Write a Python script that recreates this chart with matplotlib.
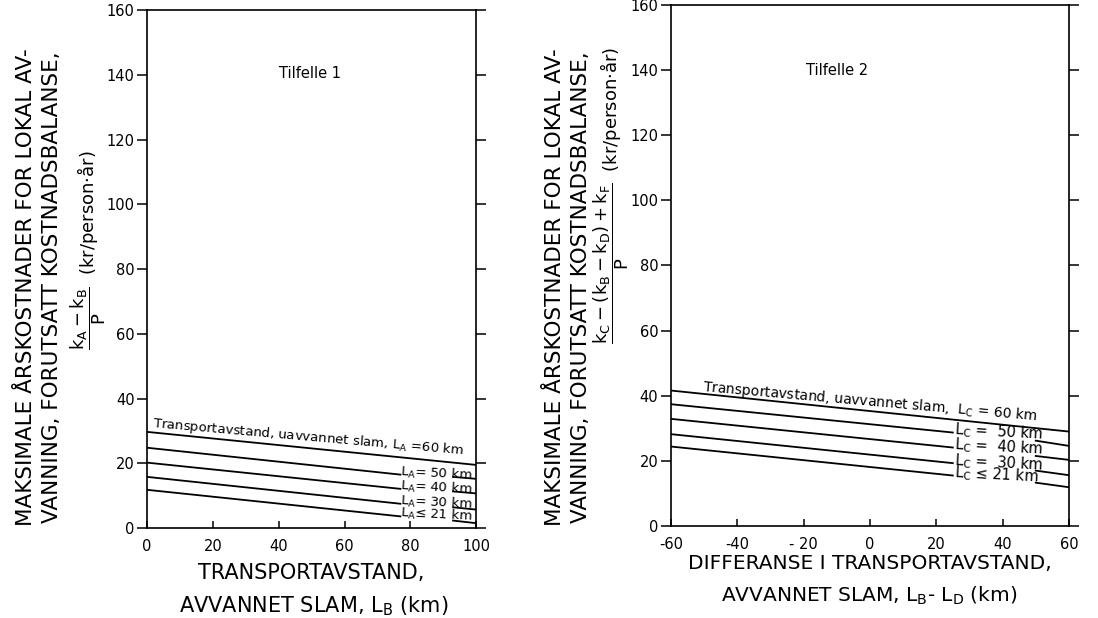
import matplotlib
matplotlib.use('Agg')
import matplotlib.pyplot as plt
import numpy as np

plt.rcParams['font.family'] = 'DejaVu Sans'
plt.rcParams['mathtext.fontset'] = 'dejavusans'

# Tilfelle 1: x = transport distance L_B (km)
left_x_full = [0, 100]
left_x_gap = [0, 77, np.nan, 93, 100]
left_top = [29.7, 19.5]                      # L_A = 60 km
left_lines = {
    '50': [24.8, 16.5, np.nan, 15.8, 15.2],
    '40': [20.2, 12.1, np.nan, 11.3, 10.7],
    '30': [15.8, 7.5, np.nan, 6.4, 5.7],
    '21': [11.8, 3.6, np.nan, 2.3, 1.5],
}

# Tilfelle 2: x = difference in transport distance L_B - L_D (km)
right_x_full = [-60, 60]
right_x_gap = [-60, 25, np.nan, 50, 60]
right_top = [41.6, 29.0]                     # L_C = 60 km
right_lines = {
    '50': [37.4, 28.7, np.nan, 26.2, 24.6],
    '40': [32.9, 24.1, np.nan, 21.5, 20.3],
    '30': [28.2, 19.3, np.nan, 17.0, 15.6],
    '21': [24.4, 15.5, np.nan, 13.3, 11.9],
}

yticks = np.arange(0, 161, 20)
left_xticks = np.arange(0, 101, 20)
right_xticks = np.arange(-60, 61, 20)

fig = plt.figure(figsize=(10.98, 6.18), dpi=100)
ax1 = fig.add_axes([0.134, 0.1456, 0.2996, 0.838])
ax2 = fig.add_axes([0.611, 0.1489, 0.3625, 0.843])

lw = 1.3
for ax in (ax1, ax2):
    ax.set_ylim(0, 160)
    ax.set_yticks(yticks)
    for s in ax.spines.values():
        s.set_linewidth(1.2)
    ax.tick_params(axis='y', direction='out', length=7, width=1.1,
                   left=True, right=True, labelsize=10.5, pad=2)
    ax.tick_params(axis='x', direction='in', length=5, width=1.1,
                   labelsize=10.5, pad=8)

# left panel
ax1.set_xlim(0, 100)
ax1.set_xticks(left_xticks)
ax1.plot(left_x_full, left_top, color='black', lw=lw)
for km, ys in left_lines.items():
    ax1.plot(left_x_gap, ys, color='black', lw=lw)
    sym = '\u2264' if km == '21' else '='
    ax1.text(left_x_gap[1], ys[1] + 0.9,
             r'$\mathrm{L_A}$' + sym + ' ' + km + ' km',
             fontsize=9.5, ha='left', va='center', rotation=-3,
             rotation_mode='anchor')
ax1.text(49, 28.0, r'Transportavstand, uavvannet slam, $\mathrm{L_A}$ =60 km',
         fontsize=9.5, ha='center', va='center', rotation=-5,
         rotation_mode='anchor')
ax1.text(49.5, 140.5, 'Tilfelle 1', fontsize=10.5, ha='center', va='center')

# right panel
ax2.set_xlim(-60, 60)
ax2.set_xticks(right_xticks)
ax2.set_xticklabels([str(v).replace('-', '- ') if v == -20 else str(v)
                     for v in right_xticks])
ax2.plot(right_x_full, right_top, color='black', lw=lw)
for km, ys in right_lines.items():
    ax2.plot(right_x_gap, ys, color='black', lw=lw)
    sym = ' \u2264 ' if km == '21' else ' =  '
    ax2.text(right_x_gap[1] + 0.5, ys[1] + 0.9,
             r'$\mathrm{L_C}$' + sym + km + ' km',
             fontsize=10.5, ha='left', va='center', rotation=-3,
             rotation_mode='anchor')
ax2.text(0, 38.2, r'Transportavstand, uavvannet slam,  $\mathrm{L_C}$ = 60 km',
         fontsize=10, ha='center', va='center', rotation=-5,
         rotation_mode='anchor')
ax2.text(-10, 140, 'Tilfelle 2', fontsize=10.5, ha='center', va='center')

# axis titles
ylab1 = 'MAKSIMALE \u00c5RSKOSTNADER FOR LOKAL AV-'
ylab2 = 'VANNING, FORUTSATT KOSTNADSBALANSE,'
unit = '  (kr/person\u00b7\u00e5r)'
for x0, formula, yf, fx in [
        (0, r'$\dfrac{\mathrm{k_A - k_B}}{\mathrm{P}}$', 0.595, 88),
        (529, r'$\dfrac{\mathrm{k_C - (k_B - k_D) + k_F}}{\mathrm{P}}$', 0.684, 82)]:
    fig.text((x0 + 26) / 1098, 0.536, ylab1, rotation=90, fontsize=15.5,
             ha='center', va='center')
    fig.text((x0 + 52) / 1098, 0.536, ylab2, rotation=90, fontsize=15.5,
             ha='center', va='center')
    fig.text((x0 + fx) / 1098, yf, formula + unit,
             rotation=90, fontsize=13, ha='center', va='center')

fig.text(0.2833, 0.0631, 'TRANSPORTAVSTAND,', fontsize=15, ha='center', va='baseline')
fig.text(0.2860, 0.0097, r'AVVANNET SLAM, $\mathrm{L_B}$ (km)', fontsize=15,
         ha='center', va='baseline')
fig.text(0.792, 0.0800, 'DIFFERANSE I TRANSPORTAVSTAND,', fontsize=14.5,
         ha='center', va='baseline')
fig.text(0.792, 0.0259, r'AVVANNET SLAM, $\mathrm{L_B}$- $\mathrm{L_D}$ (km)',
         fontsize=14.5, ha='center', va='baseline')

fig.savefig('out.png', dpi=100)
